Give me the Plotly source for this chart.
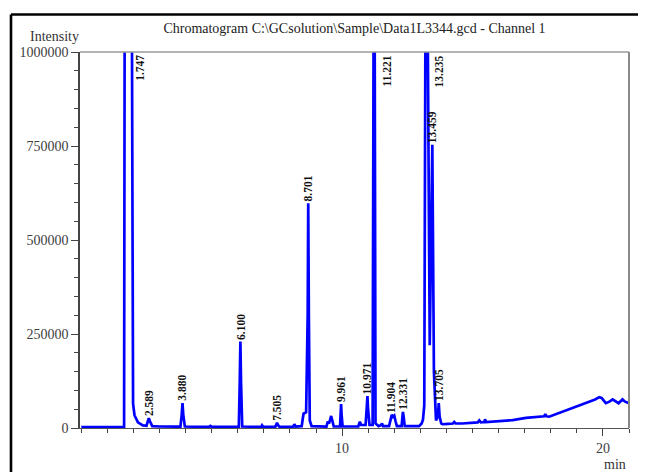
import plotly.graph_objects as go

# ---- chromatogram trace vertices (time in min, intensity in counts) ----
time_min = [
    0.00, 1.00, 1.64, 1.665, 1.747, 1.935, 1.955, 1.985, 2.04, 2.17, 2.36, 2.50, 2.56, 2.589, 2.63, 2.72,
    3.00, 3.80, 3.85, 3.880, 3.91, 3.97, 4.90, 4.95, 5.00, 5.70, 5.74, 5.78, 6.04, 6.075, 6.100, 6.125,
    6.17, 6.90, 6.93, 6.97, 7.44, 7.48, 7.505, 7.54, 7.60, 8.12, 8.17, 8.22, 8.45, 8.52, 8.62, 8.68,
    8.701, 8.725, 8.76, 8.83, 9.40, 9.45, 9.50, 9.58, 9.63, 9.68, 9.92, 9.945, 9.961, 9.98, 10.02,
    10.62, 10.68, 10.73, 10.90, 10.95, 10.971, 10.995, 11.05, 11.17, 11.20, 11.221, 11.245, 11.28,
    11.40, 11.50, 11.53, 11.57, 11.80, 11.86, 11.904, 11.95, 12.00, 12.05, 12.10, 12.28, 12.31, 12.331,
    12.36, 12.40, 12.95, 13.05, 13.10, 13.15, 13.20, 13.235, 13.27, 13.36, 13.459, 13.52, 13.60, 13.67,
    13.705, 13.74, 13.80, 13.85, 14.05, 14.25, 14.30, 14.35, 14.60, 14.88, 15.10, 15.20, 15.26, 15.32,
    15.45, 15.48, 15.52, 15.77, 16.10, 16.54, 17.05, 17.56, 17.75, 17.79, 17.84, 17.94, 18.25, 18.58,
    18.97, 19.20, 19.48, 19.70, 19.86, 19.95, 20.11, 20.25, 20.37, 20.48, 20.60, 20.75, 20.85, 21.00,
]
intensity = [
    2500, 2500, 2500, 1200000, 1500000, 1200000, 130000, 65000, 34000, 15000, 7000, 6000, 20000, 26000, 18000, 5000,
    4000, 3500, 35000, 66000, 35000, 4000, 3000, 5500, 3000, 3000, 5000, 3000, 3000, 120000, 230000, 120000,
    4000, 3000, 7000, 3000, 3000, 10000, 14000, 8000, 3000, 3000, 10000, 4000, 5000, 38000, 42000, 300000,
    598000, 300000, 20000, 5000, 4000, 17000, 12000, 32000, 15000, 4000, 4000, 35000, 64000, 35000, 4000,
    4000, 17000, 8000, 8000, 60000, 85000, 50000, 8000, 8000, 1200000, 1500000, 1200000, 12000,
    5000, 8000, 12000, 5000, 5000, 28000, 35000, 30000, 33000, 18000, 5000, 5000, 35000, 43000,
    30000, 5000, 5000, 12000, 22000, 60000, 1200000, 1500000, 1200000, 220000, 753000, 150000, 20000, 30000,
    66000, 30000, 12000, 10000, 11000, 12000, 16000, 12000, 12000, 14000, 15000, 15000, 20000, 15000,
    16000, 23000, 16000, 17000, 18000, 21000, 27000, 30000, 31000, 37000, 31000, 30000, 38000, 48000,
    57000, 62000, 70000, 76000, 82000, 80000, 66000, 70000, 76000, 72000, 66000, 76000, 70000, 66000,
]

# ---- peak labels ----
peak_labels = ["1.747", "2.589", "3.880", "6.100", "7.505", "8.701", "9.961", "10.971",
               "11.221", "11.904", "12.331", "13.235", "13.459", "13.705"]
peak_times = [1.747, 2.589, 3.880, 6.100, 7.505, 8.701, 9.961, 10.971,
              11.221, 11.904, 12.331, 13.235, 13.459, 13.705]
peak_heights = [1500000, 26000, 66000, 230000, 14000, 598000, 64000, 85000,
                1500000, 35000, 43000, 1500000, 753000, 66000]

y_ticks = [0, 250000, 500000, 750000, 1000000]
y_ticktext = ["0", "250000", "500000", "750000", "1000000"]
x_ticks = [10, 20]
x_ticktext = ["10", "20"]

Y_MAX = 1000000
SERIF = "Liberation Serif"

fig = go.Figure()
fig.add_trace(go.Scatter(
    x=time_min, y=intensity, mode="lines",
    line=dict(color="#0000FF", width=2.7),
    hoverinfo="skip", showlegend=False,
))

annotations = []
for lab, t, h in zip(peak_labels, peak_times, peak_heights):
    if h >= Y_MAX:
        annotations.append(dict(
            x=t, y=Y_MAX, xref="x", yref="y", text="<b>%s</b>" % lab,
            textangle=-90, showarrow=False, xanchor="center", yanchor="top",
            xshift=13, yshift=-1,
            font=dict(family=SERIF, size=11.5, color="#111111"),
        ))
    else:
        annotations.append(dict(
            x=t, y=h, xref="x", yref="y", text="<b>%s</b>" % lab,
            textangle=-90, showarrow=False, xanchor="center", yanchor="bottom",
            yshift=0,
            font=dict(family=SERIF, size=11.5, color="#111111"),
        ))

annotations.append(dict(
    x=-0.047, y=1.041, xref="paper", yref="paper", text="Intensity",
    showarrow=False, xanchor="center", yanchor="middle", borderpad=0,
    font=dict(family=SERIF, size=14, color="#333333"),
))
annotations.append(dict(
    x=0.998, y=-0.096, xref="paper", yref="paper", text="min",
    showarrow=False, xanchor="right", yanchor="middle",
    font=dict(family=SERIF, size=14, color="#333333"),
))

shapes = [
    # outer black frame (top and left)
    dict(type="line", xref="paper", yref="paper", x0=-0.1257, x1=1.2, y0=1.0997, y1=1.0997,
         line=dict(color="#000000", width=2.6)),
    dict(type="line", xref="paper", yref="paper", x0=-0.1257, x1=-0.1257, y0=1.0997, y1=-0.2,
         line=dict(color="#000000", width=2.6)),
    # plot top and right borders
    dict(type="line", xref="paper", yref="paper", x0=0, x1=1, y0=1, y1=1,
         line=dict(color="#9a9a9a", width=1.3)),
    dict(type="line", xref="paper", yref="paper", x0=1, x1=1, y0=0, y1=1,
         line=dict(color="#8a8a8a", width=2)),
]

# the page body has an 8px default margin, so the figure is sized/offset to compensate
fig.update_layout(
    width=638, height=464,
    margin=dict(l=72, r=17, t=44, b=44),
    paper_bgcolor="white", plot_bgcolor="white",
    title=dict(
        text="Chromatogram C:\\GCsolution\\Sample\\Data1L3344.gcd - Channel 1",
        x=0.5, xref="paper", xanchor="center",
        y=1 - 20 / 464, yref="container", yanchor="middle",
        font=dict(family=SERIF, size=14, color="#222222"),
    ),
    annotations=annotations,
    shapes=shapes,
    showlegend=False,
)

fig.update_xaxes(
    range=[-0.05, 21], showgrid=False, zeroline=False,
    showline=True, linecolor="#555555", linewidth=1.2, layer="below traces",
    tickmode="array", tickvals=x_ticks, ticktext=x_ticktext,
    ticks="outside", ticklen=7, tickwidth=1.2, tickcolor="#444444",
    tickfont=dict(family=SERIF, size=14, color="#404040"),
    minor=dict(dtick=1, tick0=0, ticks="outside", ticklen=4, tickwidth=1.2, tickcolor="#444444", showgrid=False),
)
fig.update_yaxes(
    range=[0, Y_MAX], showgrid=False, zeroline=False,
    showline=True, linecolor="#444444", linewidth=1.5, layer="below traces",
    tickmode="array", tickvals=y_ticks, ticktext=y_ticktext,
    ticks="outside", ticklen=7, tickwidth=1.2, tickcolor="#444444",
    tickfont=dict(family=SERIF, size=14, color="#404040"),
    minor=dict(dtick=50000, tick0=0, ticks="outside", ticklen=4, tickwidth=1.2, tickcolor="#444444", showgrid=False),
)

fig.write_html("out.html")
